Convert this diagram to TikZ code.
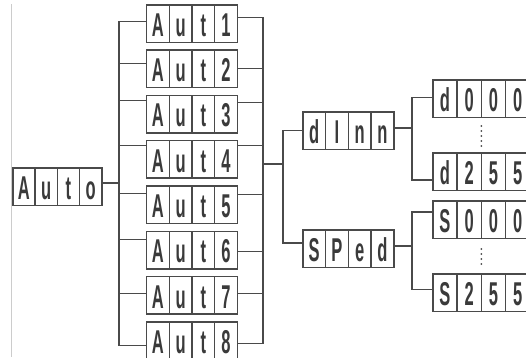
\documentclass[tikz,border=0pt]{standalone}
\usepackage{fontspec}
\usepackage{graphicx}
\usetikzlibrary{calc}
\newfontfamily\segfont{Liberation Sans}
\definecolor{linegray}{HTML}{4A4A4A}
\definecolor{txtgray}{HTML}{3A3A3A}
\newcommand\cell[2]{\makebox[#1]{\scalebox{0.5}[1]{#2}}}
\newcommand\seg[5][22.75pt]{\cell{#1}{#2}\cell{#1}{#3}\cell{#1}{#4}\cell{#1}{#5}}
\tikzset{
  lcd/.style={draw=linegray, line width=1.5pt, inner sep=0pt, anchor=north west,
    text height=31.5pt, text depth=6pt, text=txtgray,
    font=\segfont\bfseries\fontsize{33}{33}\selectfont,
    path picture={\foreach \k in {1,2,3}
      \draw[linegray, line width=1.2pt]
        ($(path picture bounding box.south west)!\k/4!(path picture bounding box.south east)$) --
        ($(path picture bounding box.north west)!\k/4!(path picture bounding box.north east)$);}},
  wire/.style={linegray, line width=1.3pt},
  dots/.style={linegray, line width=2pt, line cap=round, dash pattern=on 0pt off 5pt}
}
\begin{document}
\begin{tikzpicture}[x=1pt,y=-1pt]
\clip (0,0) rectangle (526,357);
% the faint rule at the left edge
\draw[black!20, line width=1.5pt] (11.5,4) -- (11.5,357);

% the displays
\node[lcd] (auto) at (12,167) {\seg[22.25pt]{A}{u}{t}{o}};
\foreach \i in {1,...,8}
  \node[lcd] (a\i) at (145.7,{4+45.3*(\i-1)}) {\seg{A}{u}{t}{\i}};
\node[lcd] (dinn) at (302,111) {\seg{d}{I}{n}{n}};
\node[lcd] (sped) at (302,229) {\seg{S}{P}{e}{d}};
\node[lcd] (d000) at (432,79) {\seg[24.25pt]{d}{0}{0}{0}};
\node[lcd] (d255) at (432,152) {\seg[24.25pt]{d}{2}{5}{5}};
\node[lcd] (s000) at (432,200) {\seg[24.25pt]{S}{0}{0}{0}};
\node[lcd] (s255) at (432,273) {\seg[24.25pt]{S}{2}{5}{5}};

% the junctions
\coordinate (lj) at (119,183);
\coordinate (rj) at (263,164);
\coordinate (mj) at (283,164);
\coordinate (dj) at (412,128);
\coordinate (sj) at (412,246);

% left fan
\draw[wire] ([yshift=1.75pt]a1.west) -| (lj) |- ([yshift=-5.1pt]a8.west);
\foreach \i/\o in {2/5,3/13.3,4/13.6,5/11,6/10.3,7/1.6}
  \draw[wire] ([yshift=\o pt]a\i.west) -- ([yshift=\o pt]a\i.west -| lj);
\draw[wire] (auto.east |- lj) -- (lj);

% right fan
\draw[wire] ([yshift=5.75pt]a1.east) -| (rj) |- ([yshift=-3.1pt]a8.east);
\foreach \i/\o in {2/0,3/11.3,4/13.6,5/10,6/-1.7,7/1.6}
  \draw[wire] ([yshift=\o pt]a\i.east) -- ([yshift=\o pt]a\i.east -| rj);
\draw[wire] (rj) -- (mj);
\draw[wire] (dinn.west) -| (mj) |- ([yshift=5.5pt]sped.west);

% the value ranges
\draw[wire] (dinn.east |- dj) -- (dj);
\draw[wire] ([yshift=1pt]d000.west) -| (dj) |- ([yshift=-8.5pt]d255.west);
\draw[wire] (sped.east |- sj) -- (sj);
\draw[wire] ([yshift=7.5pt]s000.west) -| (sj) |- ([yshift=3pt]s255.west);
\draw[dots] ([yshift=-8pt]d000.south) -- ([yshift=6pt]d255.north);
\draw[dots] ([yshift=-10pt]s000.south) -- ([yshift=6pt]s255.north);
\end{tikzpicture}
\end{document}
